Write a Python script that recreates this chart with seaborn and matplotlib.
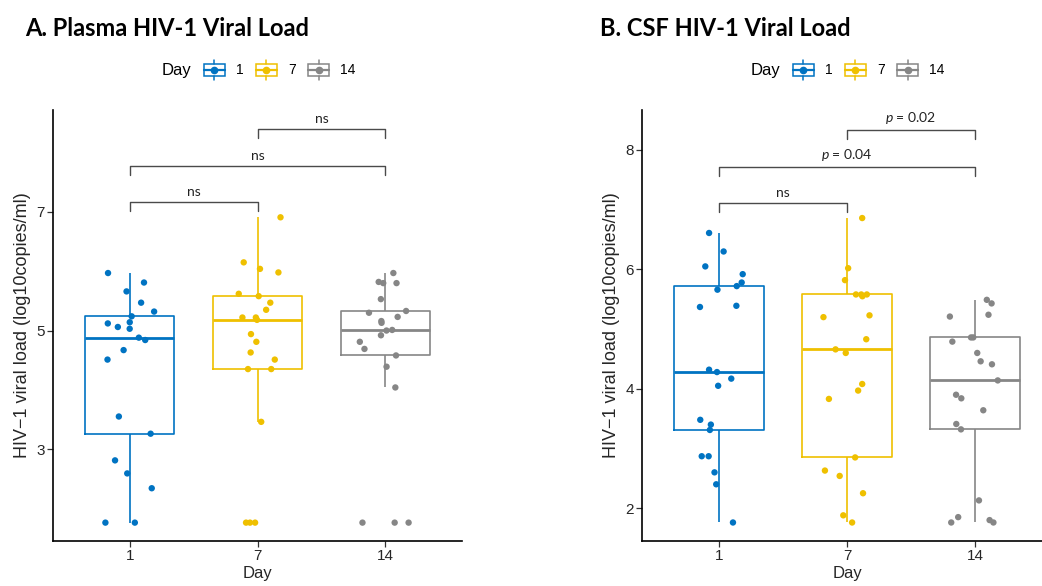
import numpy as np
import pandas as pd
import matplotlib
matplotlib.use("Agg")
import matplotlib.pyplot as plt
import seaborn as sns
from matplotlib.lines import Line2D
from matplotlib.patches import Rectangle
from matplotlib.legend_handler import HandlerBase

# ==============================================================================
# 1. DATA
# ==============================================================================
DAYS = ['1', '7', '14']

plasma_d1 = [5.97, 5.81, 5.66, 5.47, 5.32, 5.24, 5.14, 5.12, 5.06, 5.03, 4.88,
             4.84, 4.67, 4.51, 3.55, 3.26, 2.81, 2.59, 2.34, 1.76, 1.76]
plasma_d7 = [6.91, 6.15, 6.04, 5.98, 5.62, 5.58, 5.47, 5.35, 5.22, 5.22, 5.18,
             4.94, 4.81, 4.63, 4.51, 4.35, 4.35, 3.46, 1.76, 1.76, 1.76]
plasma_d14 = [5.97, 5.82, 5.80, 5.80, 5.53, 5.33, 5.30, 5.23, 5.16, 5.13, 5.01,
              5.00, 4.92, 4.81, 4.69, 4.58, 4.39, 4.04, 1.76, 1.76, 1.76]

csf_d1 = [6.61, 6.30, 6.05, 5.92, 5.78, 5.72, 5.66, 5.39, 5.37, 4.32, 4.28,
          4.17, 4.05, 3.48, 3.40, 3.31, 2.87, 2.87, 2.60, 2.40, 1.76]
csf_d7 = [6.86, 6.02, 5.82, 5.58, 5.58, 5.58, 5.55, 5.23, 5.20, 4.83, 4.66,
          4.60, 4.08, 3.97, 3.83, 2.85, 2.63, 2.54, 2.25, 1.88, 1.76]
csf_d14 = [5.49, 5.43, 5.24, 5.21, 4.86, 4.86, 4.79, 4.60, 4.46, 4.41, 4.14,
           3.90, 3.84, 3.64, 3.41, 3.32, 2.13, 1.85, 1.80, 1.76, 1.76]

# pairwise comparisons shown as brackets
comparisons = [('1', '7'), ('1', '14'), ('7', '14')]
plasma_labels = ['ns', 'ns', 'ns']
csf_labels = ['ns', '$p$ = 0.04', '$p$ = 0.02']

# ==============================================================================
# 2. STYLE
# ==============================================================================
COLORS = {'1': '#0073C2', '7': '#EFC000', '14': '#868686'}
BRACKET_COLOR = '#4a4a4a'

sns.set_style("white")
plt.rcParams['font.family'] = ['Liberation Sans', 'DejaVu Sans']
plt.rcParams['mathtext.fontset'] = 'custom'
plt.rcParams['mathtext.it'] = 'Lato:italic'
plt.rcParams['mathtext.rm'] = 'Lato'
plt.rcParams['text.color'] = 'black'

np.random.seed(7)


def make_frame(d1, d7, d14):
    return pd.DataFrame({
        'Day': ['1'] * len(d1) + ['7'] * len(d7) + ['14'] * len(d14),
        'load': d1 + d7 + d14,
    })


df_plasma = make_frame(plasma_d1, plasma_d7, plasma_d14)
df_csf = make_frame(csf_d1, csf_d7, csf_d14)


class BoxKeyHandler(HandlerBase):
    # little boxplot icon like ggplot legend keys
    def create_artists(self, legend, orig_handle, xdescent, ydescent,
                       width, height, fontsize, trans):
        c = orig_handle.get_color()
        x0, y0 = -xdescent, -ydescent
        bh = height * 0.56
        by = y0 + (height - bh) / 2
        box = Rectangle((x0, by), width, bh, fill=False, edgecolor=c,
                        lw=1.1, transform=trans)
        wt = Line2D([x0 + width / 2] * 2, [by + bh, y0 + height], color=c,
                    lw=1.1, transform=trans)
        wb = Line2D([x0 + width / 2] * 2, [y0, by], color=c, lw=1.1,
                    transform=trans)
        med = Line2D([x0, x0 + width], [y0 + height / 2] * 2, color=c,
                     lw=1.6, transform=trans)
        dot = Line2D([x0 + width / 2], [y0 + height / 2], marker='o',
                     color=c, ms=4.5, lw=0, transform=trans)
        return [box, wt, wb, med, dot]


def draw_panel(ax, df, labels, ylim, yticks, heights, title, title_x,
               legend_x):
    sns.boxplot(data=df, x='Day', y='load', hue='Day', order=DAYS,
                hue_order=DAYS, palette=COLORS, fill=False, width=0.7,
                showfliers=False, showcaps=False, linewidth=1.2,
                medianprops={'linewidth': 2.0}, legend=False, ax=ax)
    sns.stripplot(data=df, x='Day', y='load', hue='Day', order=DAYS,
                  hue_order=DAYS, palette=COLORS, jitter=0.2, size=4.6,
                  linewidth=0, legend=False, ax=ax, zorder=3)

    ax.set_xlim(-0.6, 2.6)
    ax.set_ylim(*ylim)
    ax.set_yticks(yticks)
    ax.set_xlabel('Day', fontsize=12, labelpad=2)
    ax.set_ylabel('HIV\u22121 viral load (log10copies/ml)', fontsize=13,
                  labelpad=4)
    ax.tick_params(axis='both', labelsize=11, length=4, width=0.9,
                   color='#333333', pad=2, bottom=True, left=True)
    sns.despine(ax=ax)
    for side in ['left', 'bottom']:
        ax.spines[side].set_linewidth(1.2)
        ax.spines[side].set_color('black')

    # significance brackets
    for (a, b), lab, h in zip(comparisons, labels, heights):
        xa, xb = DAYS.index(a), DAYS.index(b)
        tip = 0.15
        ax.plot([xa, xa, xb, xb], [h - tip, h, h, h - tip],
                color=BRACKET_COLOR, lw=1.0, clip_on=False)
        ax.annotate(lab, xy=((xa + xb) / 2, h), xytext=(0, 3),
                    textcoords='offset points', ha='center', va='bottom',
                    fontsize=10, family='Lato', color='#222222')

    fig = ax.figure
    fig.text(title_x, 1 - 29 / 586, title, fontsize=17, fontweight='bold',
             family='Lato', va='center', ha='left')

    # legend: "Day" + box keys
    fig.text(legend_x, 1 - 70 / 586, 'Day', fontsize=12, va='center',
             ha='left')
    handles = [Line2D([], [], color=COLORS[d]) for d in DAYS]
    fig.legend(handles, DAYS, loc='center left',
               bbox_to_anchor=(legend_x + 42 / 1042, 1 - 70 / 586),
               ncol=3, frameon=False, fontsize=10, handlelength=1.5,
               handleheight=1.8, handletextpad=0.8, columnspacing=0.9,
               borderpad=0, borderaxespad=0,
               handler_map={Line2D: BoxKeyHandler()})


# ==============================================================================
# 3. FIGURE
# ==============================================================================
fig = plt.figure(figsize=(10.42, 5.86), dpi=100)
ax1 = fig.add_axes([53 / 1042, 45 / 586, 409 / 1042, 431 / 586])
ax2 = fig.add_axes([642 / 1042, 45 / 586, 410 / 1042, 431 / 586])

draw_panel(ax1, df_plasma, plasma_labels, (1.45, 8.72), [3, 5, 7],
           [7.17, 7.78, 8.40], 'A. Plasma HIV-1 Viral Load', 25 / 1042,
           162 / 1042)
draw_panel(ax2, df_csf, csf_labels, (1.45, 8.67), [2, 4, 6, 8],
           [7.11, 7.71, 8.34], 'B. CSF HIV-1 Viral Load', 600 / 1042,
           751 / 1042)

fig.savefig('out.png', dpi=100)
print("done")
